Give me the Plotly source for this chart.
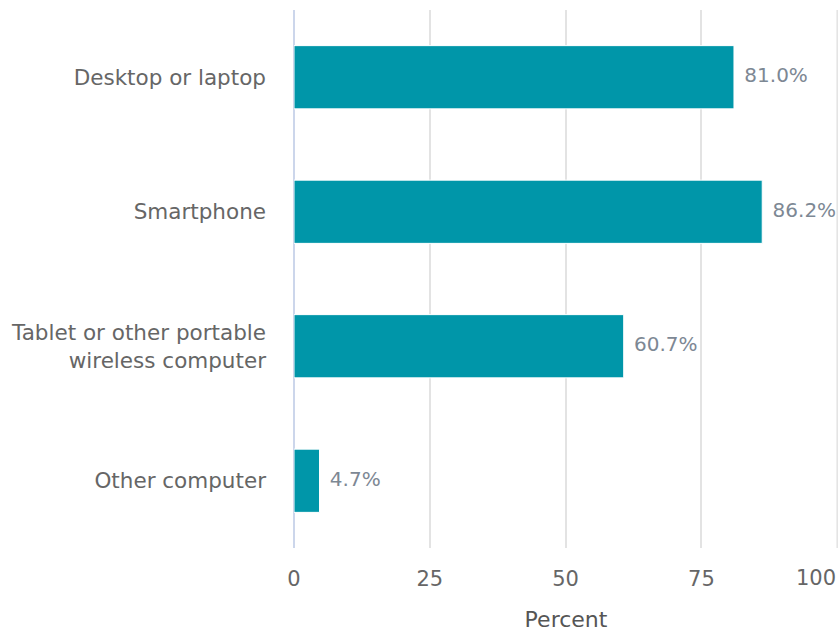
import plotly.graph_objects as go

categories = ["Desktop or laptop", "Smartphone",
              "Tablet or other portable<br>wireless computer", "Other computer"]
values = [81.0, 86.2, 60.7, 4.7]
labels = ["81.0%", "86.2%", "60.7%", "4.7%"]
x_ticks = [0, 25, 50, 75, 100]

FONT = "DejaVu Sans"
GRID = "#e3e3e3"

fig = go.Figure()
fig.add_trace(go.Bar(
    y=categories, x=values, orientation="h",
    marker=dict(color="#0096a9", line=dict(color="#ffffff", width=1)),
    width=0.47, hoverinfo="skip", showlegend=False,
))
fig.add_trace(go.Scatter(
    y=categories, x=values, mode="text", text=[" \u2009" + t for t in labels],
    textposition="middle right",
    textfont=dict(family=FONT, size=20, color="#7d8894"),
    cliponaxis=False, showlegend=False, hoverinfo="skip",
))

# last tick label is right-aligned to stay inside the chart (as in the reference)
last = x_ticks[-1]
ticktext = [str(v) for v in x_ticks[:-1]] + [""]
fig.add_annotation(
    x=last, xref="x", y=0, yref="paper", text=str(last), showarrow=False,
    xanchor="right", yanchor="middle", yshift=-30, xshift=1,
    font=dict(family=FONT, size=21, color="#666666"),
)
# gridline at the right edge of the plot area
fig.add_shape(type="line", x0=last, x1=last, xref="x", y0=0, y1=1, yref="paper",
              line=dict(color=GRID, width=1.5), layer="below")

fig.update_layout(
    width=838, height=633,
    margin=dict(l=294, r=0, t=10, b=85),
    paper_bgcolor="white", plot_bgcolor="white",
    font=dict(family=FONT, size=20, color="#666666"),
)
fig.update_xaxes(
    range=[0, 100.15], tickvals=x_ticks, ticktext=ticktext,
    showgrid=True, gridcolor=GRID, gridwidth=1.5,
    zeroline=True, zerolinecolor="#ccd6eb", zerolinewidth=2,
    showline=False, ticks="", ticklabelstandoff=16, automargin=False,
    tickfont=dict(family=FONT, size=21, color="#666666"),
    title=dict(text="Percent", font=dict(family=FONT, size=22, color="#555555"), standoff=21),
)
fig.update_yaxes(
    categoryorder="array", categoryarray=categories[::-1],
    showgrid=False, zeroline=False, showline=False, ticks="",
    ticklabelstandoff=27, automargin=False,
    tickfont=dict(family=FONT, size=21.5, color="#666666"),
)
fig.write_html(
    "out.html",
    config={"displayModeBar": False},
    post_script="document.body.style.margin='0';document.body.style.overflow='hidden';",
)
